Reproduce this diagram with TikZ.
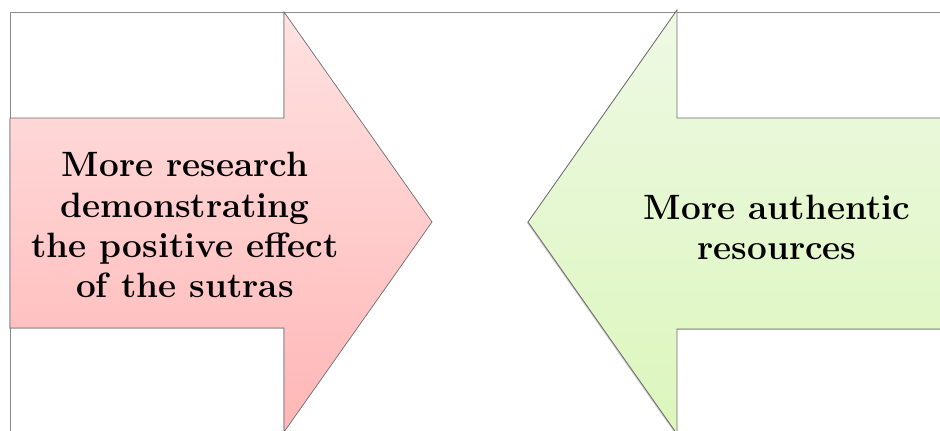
\documentclass[tikz,border=0pt]{standalone}
\usetikzlibrary{shadows}
\definecolor{framegray}{RGB}{140,140,140}
\definecolor{edgegray}{RGB}{110,110,110}
\definecolor{pinktop}{RGB}{255,226,226}
\definecolor{pinkbot}{RGB}{255,182,182}
\definecolor{greentop}{RGB}{238,249,228}
\definecolor{greenbot}{RGB}{220,246,188}
\tikzstyle{frame} = [draw=framegray, line width=0.7pt]
\tikzstyle{redarrow} = [draw=edgegray, line width=0.5pt, top color=pinktop, bottom color=pinkbot, drop shadow={shadow xshift=-0.7pt, shadow yshift=-0.7pt, opacity=0.3}]
\tikzstyle{greenarrow} = [draw=edgegray, line width=0.6pt, top color=greentop, bottom color=greenbot, drop shadow={shadow xshift=-0.7pt, shadow yshift=-0.7pt, opacity=0.4}]
\tikzstyle{arrowtext} = [align=center, font=\fontsize{25}{28.5}\selectfont\bfseries]

\begin{document}
\begin{tikzpicture}[x=0.025cm, y=-0.025cm]
    \useasboundingbox (0,0) rectangle (940,430);
    \clip (0,0) rectangle (940,430);
    \draw [frame] (10,12) rectangle (960,450);

    % arrow pointing right
    \draw [redarrow] (10,118) -- (284,118) -- (284,12) -- (432,222) -- (284,432) -- (284,328) -- (10,328) -- cycle;
    % arrow pointing left
    \draw [greenarrow] (960,118) -- (677,118) -- (677,10) -- (528,222) -- (677,434) -- (677,329) -- (960,329) -- cycle;

    \node (research) [arrowtext] at (185,225) {More research\\demonstrating\\the positive effect\\of the sutras};
    \node (resources) [arrowtext] at (777,227) {More authentic\\resources};
\end{tikzpicture}
\end{document}
